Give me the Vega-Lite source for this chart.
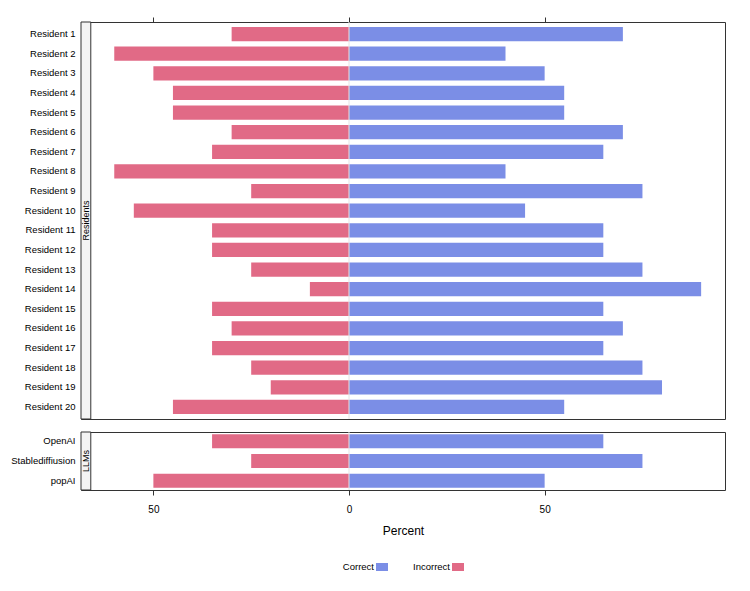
{
  "$schema": "https://vega.github.io/schema/vega-lite/v6.json",
  "padding": {"left": 10, "top": 16, "right": 5, "bottom": 5},
  "background": "white",
  "config": {
    "font": "Liberation Sans",
    "view": {"stroke": "#333333", "strokeWidth": 1},
    "axis": {"labelFont": "Liberation Sans", "titleFont": "Liberation Sans", "labelColor": "black", "titleColor": "black", "grid": false},
    "text": {"font": "Liberation Sans"}
  },
  "datasets": {
    "res": [
      {"name": "Resident 1", "response": "Correct", "percent": 70},
      {"name": "Resident 1", "response": "Incorrect", "percent": -30},
      {"name": "Resident 2", "response": "Correct", "percent": 40},
      {"name": "Resident 2", "response": "Incorrect", "percent": -60},
      {"name": "Resident 3", "response": "Correct", "percent": 50},
      {"name": "Resident 3", "response": "Incorrect", "percent": -50},
      {"name": "Resident 4", "response": "Correct", "percent": 55},
      {"name": "Resident 4", "response": "Incorrect", "percent": -45},
      {"name": "Resident 5", "response": "Correct", "percent": 55},
      {"name": "Resident 5", "response": "Incorrect", "percent": -45},
      {"name": "Resident 6", "response": "Correct", "percent": 70},
      {"name": "Resident 6", "response": "Incorrect", "percent": -30},
      {"name": "Resident 7", "response": "Correct", "percent": 65},
      {"name": "Resident 7", "response": "Incorrect", "percent": -35},
      {"name": "Resident 8", "response": "Correct", "percent": 40},
      {"name": "Resident 8", "response": "Incorrect", "percent": -60},
      {"name": "Resident 9", "response": "Correct", "percent": 75},
      {"name": "Resident 9", "response": "Incorrect", "percent": -25},
      {"name": "Resident 10", "response": "Correct", "percent": 45},
      {"name": "Resident 10", "response": "Incorrect", "percent": -55},
      {"name": "Resident 11", "response": "Correct", "percent": 65},
      {"name": "Resident 11", "response": "Incorrect", "percent": -35},
      {"name": "Resident 12", "response": "Correct", "percent": 65},
      {"name": "Resident 12", "response": "Incorrect", "percent": -35},
      {"name": "Resident 13", "response": "Correct", "percent": 75},
      {"name": "Resident 13", "response": "Incorrect", "percent": -25},
      {"name": "Resident 14", "response": "Correct", "percent": 90},
      {"name": "Resident 14", "response": "Incorrect", "percent": -10},
      {"name": "Resident 15", "response": "Correct", "percent": 65},
      {"name": "Resident 15", "response": "Incorrect", "percent": -35},
      {"name": "Resident 16", "response": "Correct", "percent": 70},
      {"name": "Resident 16", "response": "Incorrect", "percent": -30},
      {"name": "Resident 17", "response": "Correct", "percent": 65},
      {"name": "Resident 17", "response": "Incorrect", "percent": -35},
      {"name": "Resident 18", "response": "Correct", "percent": 75},
      {"name": "Resident 18", "response": "Incorrect", "percent": -25},
      {"name": "Resident 19", "response": "Correct", "percent": 80},
      {"name": "Resident 19", "response": "Incorrect", "percent": -20},
      {"name": "Resident 20", "response": "Correct", "percent": 55},
      {"name": "Resident 20", "response": "Incorrect", "percent": -45}
    ],
    "llm": [
      {"name": "OpenAI", "response": "Correct", "percent": 65},
      {"name": "OpenAI", "response": "Incorrect", "percent": -35},
      {"name": "Stablediffiusion", "response": "Correct", "percent": 75},
      {"name": "Stablediffiusion", "response": "Incorrect", "percent": -25},
      {"name": "popAI", "response": "Correct", "percent": 50},
      {"name": "popAI", "response": "Incorrect", "percent": -50}
    ]
  },
  "spacing": 11,
  "vconcat": [
    {
      "width": 644,
      "height": 397,
      "layer": [
        {
          "data": {"name": "res"},
          "mark": {"type": "bar"},
          "encoding": {
            "y": {"field": "name", "type": "nominal", "sort": null,
                  "scale": {"paddingInner": 0.27, "paddingOuter": 0.25},
                  "axis": {"title": null, "ticks": false, "domain": false, "labelPadding": 6, "labelFontSize": 9.5}},
            "x": {"field": "percent", "type": "quantitative",
                  "scale": {"domain": [-68.5, 96.1], "nice": false, "zero": false},
                  "axis": {"orient": "top", "values": [-50, 0, 50], "labels": false, "ticks": true, "tickSize": 5, "tickColor": "#333333", "domain": false, "title": null}},
            "color": {"field": "response", "type": "nominal",
                      "scale": {"domain": ["Correct", "Incorrect"], "range": ["#7B8EE6", "#E16A86"]},
                      "legend": null}
          }
        },
        {
          "data": {"values": [{"ref": 0}]},
          "mark": {"type": "rule", "color": "#e4e4e4", "strokeWidth": 1},
          "encoding": {"x": {"datum": 0}}
        },
        {
          "data": {"values": [{"panel": "Residents"}]},
          "mark": {"type": "rect", "fill": "#f4f4f4", "stroke": "#333333", "strokeWidth": 1},
          "encoding": {"x": {"datum": -68.5}, "x2": {"datum": -66.0}}
        },
        {
          "data": {"values": [{"panel": "Residents"}]},
          "mark": {"type": "text", "angle": 270, "fontSize": 9, "color": "black", "baseline": "middle", "align": "center"},
          "encoding": {"x": {"datum": -67.25}, "text": {"field": "panel"}}
        }
      ]
    },
    {
      "width": 644,
      "height": 58,
      "layer": [
        {
          "data": {"name": "llm"},
          "mark": {"type": "bar"},
          "encoding": {
            "y": {"field": "name", "type": "nominal", "sort": null,
                  "scale": {"paddingInner": 0.3, "paddingOuter": 0.12},
                  "axis": {"title": null, "ticks": false, "domain": false, "labelPadding": 6, "labelFontSize": 9.5}},
            "x": {"field": "percent", "type": "quantitative",
                  "scale": {"domain": [-68.5, 96.1], "nice": false, "zero": false},
                  "axis": {"orient": "bottom", "values": [-50, 0, 50], "labelExpr": "abs(datum.value)", "labelFontSize": 10, "ticks": true, "tickSize": 5, "tickColor": "#333333", "labelPadding": 9, "domain": false, "title": "Percent", "titleFontSize": 12, "titleFontWeight": "normal", "titlePadding": 11}},
            "color": {"field": "response", "type": "nominal",
                      "scale": {"domain": ["Correct", "Incorrect"], "range": ["#7B8EE6", "#E16A86"]},
                      "legend": null}
          }
        },
        {
          "data": {"values": [{"ref": 0}]},
          "mark": {"type": "rule", "color": "#e4e4e4", "strokeWidth": 1},
          "encoding": {"x": {"datum": 0}}
        },
        {
          "data": {"values": [{"panel": "LLMs"}]},
          "mark": {"type": "rect", "fill": "#f4f4f4", "stroke": "#333333", "strokeWidth": 1},
          "encoding": {"x": {"datum": -68.5}, "x2": {"datum": -66.0}}
        },
        {
          "data": {"values": [{"panel": "LLMs"}]},
          "mark": {"type": "text", "angle": 270, "fontSize": 9, "color": "black", "baseline": "middle", "align": "center"},
          "encoding": {"x": {"datum": -67.25}, "text": {"field": "panel"}}
        }
      ]
    },
    {
      "width": 644,
      "height": 38,
      "view": {"stroke": null},
      "data": {"values": [{"response": "Correct"}, {"response": "Incorrect"}]},
      "encoding": {
        "x": {"field": "response", "type": "nominal", "scale": {"type": "point", "domain": ["Correct", "Incorrect"], "range": [301, 377], "padding": 0}, "axis": null}
      },
      "layer": [
        {
          "mark": {"type": "point", "shape": "M-1,-0.667H1V0.667H-1Z", "size": 144, "filled": true, "opacity": 1, "strokeWidth": 0},
          "encoding": {
            "color": {"field": "response", "type": "nominal",
                      "scale": {"domain": ["Correct", "Incorrect"], "range": ["#7B8EE6", "#E16A86"]},
                      "legend": null}
          }
        },
        {
          "mark": {"type": "text", "align": "right", "dx": -8, "fontSize": 9.5, "color": "black", "baseline": "middle"},
          "encoding": {"text": {"field": "response"}}
        }
      ]
    }
  ]
}
